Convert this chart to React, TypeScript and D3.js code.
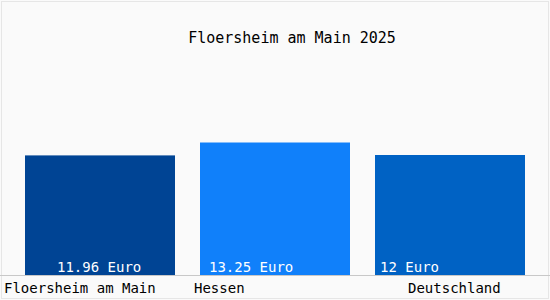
import React from "react";
import * as d3 from "d3";

const categories = ["Floersheim am Main", "Hessen", "Deutschland"];
const values = [11.96, 13.25, 12];
const valueLabels = ["11.96 Euro", "13.25 Euro", "12 Euro"];
const title = "Floersheim am Main 2025";

const colors = ["#004494", "#1080fa", "#0062c4"];
const labelOffsets = [32, 9, 5];
const catX = [4, 194, 408];

export default function App() {
  const W = 550, H = 300;
  const base = 275;
  const x = d3.scaleBand<string>().domain(categories).range([12.5, 537.5]).paddingInner(25 / 175).paddingOuter(12.5 / 175);
  const y = d3.scaleLinear().domain([0, 12]).range([base, 155]);
  const font = "'DejaVu Sans Mono', monospace";
  return (
    <svg width={W} height={H} style={{ position: "absolute", left: 0, top: 0 }}>
      <rect x={0} y={0} width={W} height={H} fill="#fafafa" />
      <rect x={1.5} y={1.5} width={W - 3} height={H - 3} fill="none" stroke="#e6e6e6" />
      <text x={292} y={43} textAnchor="middle" fontFamily={font} fontSize={15} fill="#000">{title}</text>
      {categories.map((c, i) => (
        <rect key={c} x={x(c)} y={y(values[i])} width={x.bandwidth()} height={base - y(values[i])} fill={colors[i]} />
      ))}
      <line x1={0} x2={W} y1={base + 0.5} y2={base + 0.5} stroke="#c8c8c8" />
      {categories.map((c, i) => (
        <text key={"v" + c} x={(x(c) as number) + labelOffsets[i]} y={272} fontFamily={font} fontSize={14} fill="#fff">{valueLabels[i]}</text>
      ))}
      {categories.map((c, i) => (
        <text key={"c" + c} x={catX[i]} y={293} fontFamily={font} fontSize={14} fill="#000">{c}</text>
      ))}
    </svg>
  );
}
